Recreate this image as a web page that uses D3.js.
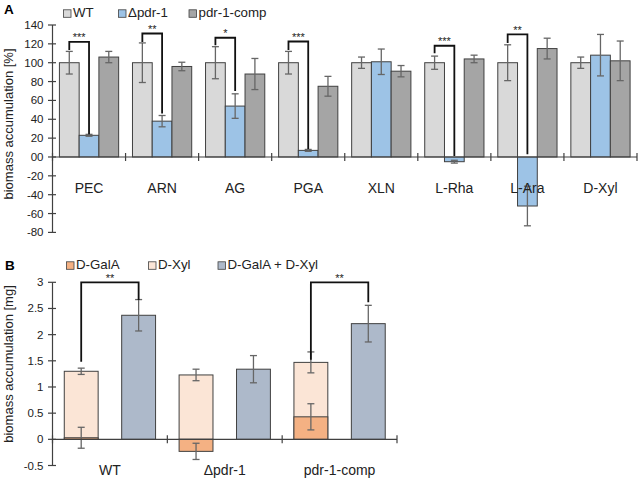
<!DOCTYPE html>
<html><head><meta charset="utf-8">
<script src="https://cdn.jsdelivr.net/npm/d3@7"></script>
<style>html,body{margin:0;padding:0;background:#fff;} svg{display:block;font-family:"Liberation Sans",Arial,sans-serif;}</style>
</head><body>
<svg id="c" width="638" height="482"></svg>
<script>
// ---------- Panel A data ----------
const catsA = ["PEC","ARN","AG","PGA","XLN","L-Rha","L-Ara","D-Xyl"];
const seriesA = ["WT","Δpdr-1","pdr-1-comp"];
const wtA      = [100,100,100,100,100,100,100,100];
const wtErrA   = [12,21,17,12,6,7,19,6];
const delA     = [23,38,54,7,101,-5,-52,108];
const delErrA  = [1,6,13,1,13.5,1.5,21,22];
const compA    = [106,96,88,75,91,104,115,102];
const compErrA = [6,4.5,16.5,10.5,6,4,11,21];
const ticksA = [140,120,100,80,60,40,20,0,-20,-40,-60,-80];
const tickLabelsA = ["140","120","100","80","60","40","20","00","-20","-40","-60","-80"];
const sigCatsA   = ["PEC","ARN","AG","PGA","L-Rha","L-Ara"];
const sigLevelA  = [122,131,126.5,122.5,118,130];
const sigLeftA   = [113.5,122,118.5,113.5,110,121];
const sigRightA  = [24,46,70,8.5,1,3];
const sigStarsA  = ["***","**","*","***","***","**"];

// ---------- Panel B data ----------
const catsB = ["WT","Δpdr-1","pdr-1-comp"];
const seriesB = ["D-GalA","D-Xyl","D-GalA + D-Xyl"];
const galB     = [0.03,-0.23,0.43];
const galErrB  = [0.2,0.155,0.25];
const xylB     = [1.30,1.23,1.47];
const xylErrB  = [0.06,0.11,0.2];
const combB    = [2.37,1.34,2.21];
const combErrB = [0.3,0.26,0.35];
const ticksB = [3,2.5,2,1.5,1,0.5,0,-0.5];
const tickLabelsB = ["3","2.5","2","1.5","1","0.5","0","-0.5"];
const sigCatsB  = ["WT","pdr-1-comp"];
const sigLevelB = [3.0,3.0];
const sigLeftB  = [1.48,1.52];
const sigRightB = [2.66,2.62];
const sigStarsB = ["**","**"];

const colA = ["#d9d9d9","#9dc3e6","#a5a5a5"];
const colB = ["#f4b183","#fbe5d6","#adb9ca"];
const barStroke = "#404040", errCol = "#666666", axisCol = "#404040";

const svg = d3.select("#c");

function yAxis(g, y, x, ticks, labels, top, bottom){
  g.append("line").attr("x1",x).attr("x2",x).attr("y1",y(top)).attr("y2",y(bottom))
   .attr("stroke",axisCol).attr("stroke-width",1.2);
  ticks.forEach((t,i)=>{
    g.append("line").attr("x1",x-4.5).attr("x2",x+3.5).attr("y1",y(t)).attr("y2",y(t))
     .attr("stroke",axisCol).attr("stroke-width",1.2);
    g.append("text").attr("x",x-9).attr("y",y(t)).attr("dy","0.35em")
     .attr("text-anchor","end").attr("font-size",11.5).attr("fill","#222").text(labels[i]);
  });
}
function errBar(g, cx, y, v, e){
  g.append("line").attr("x1",cx).attr("x2",cx).attr("y1",y(v-e)).attr("y2",y(v+e))
   .attr("stroke",errCol).attr("stroke-width",1.3);
  [v-e,v+e].forEach(w=>g.append("line").attr("x1",cx-3.5).attr("x2",cx+3.5)
    .attr("y1",y(w)).attr("y2",y(w)).attr("stroke",errCol).attr("stroke-width",1.3));
}
function bracket(g, xl, xr, y, level, left, right, stars){
  g.append("path").attr("d",`M${xl},${y(left)}V${y(level)}H${xr}V${y(right)}`)
   .attr("fill","none").attr("stroke","#111").attr("stroke-width",1.8);
  g.append("text").attr("x",(xl+xr)/2).attr("y",y(level)-0.5).attr("text-anchor","middle")
   .attr("font-size",11).attr("fill","#222").text(stars);
}
function legend(g, items, cols, xs, y){
  items.forEach((s,i)=>{
    g.append("rect").attr("x",xs[i]).attr("y",y-7.5).attr("width",7.5).attr("height",7.5)
     .attr("fill",cols[i]).attr("stroke",barStroke).attr("stroke-width",0.8);
    g.append("text").attr("x",xs[i]+9.5).attr("y",y).attr("font-size",13.3).attr("fill","#222").text(s);
  });
}

// ================= Panel A =================
const gA = svg.append("g");
const yA = d3.scaleLinear().domain([-80,140]).range([232.4,25]);
const xA = d3.scaleBand().domain(catsA).range([52.5,637]).padding(0);
const xAi = d3.scaleBand().domain(seriesA).range([0,xA.bandwidth()]).paddingInner(0).paddingOuter(0.35);
const valsA = [wtA,delA,compA], errsA = [wtErrA,delErrA,compErrA];

catsA.forEach((c,ci)=>{
  seriesA.forEach((s,si)=>{
    const v = valsA[si][ci];
    gA.append("rect").attr("x",xA(c)+xAi(s)).attr("width",xAi.bandwidth())
      .attr("y",yA(Math.max(0,v))).attr("height",Math.abs(yA(v)-yA(0)))
      .attr("fill",colA[si]).attr("stroke",barStroke).attr("stroke-width",1);
  });
});
catsA.forEach((c,ci)=>{
  seriesA.forEach((s,si)=>{
    errBar(gA, xA(c)+xAi(s)+xAi.bandwidth()/2, yA, valsA[si][ci], errsA[si][ci]);
  });
});
// category axis
gA.append("line").attr("x1",xA.range()[0]).attr("x2",xA.range()[1]).attr("y1",yA(0)).attr("y2",yA(0))
  .attr("stroke",axisCol).attr("stroke-width",1.2);
catsA.concat([null]).forEach((c,i)=>{
  const x = c ? xA(c) : xA.range()[1];
  gA.append("line").attr("x1",x).attr("x2",x).attr("y1",yA(0)-4).attr("y2",yA(0)+4)
    .attr("stroke",axisCol).attr("stroke-width",1.2);
});
catsA.forEach(c=>gA.append("text").attr("x",xA(c)+xA.bandwidth()/2).attr("y",192.5)
  .attr("text-anchor","middle").attr("font-size",14).attr("fill","#222").text(c));
yAxis(gA, yA, 52.5, ticksA, tickLabelsA, 140, -80);
sigCatsA.forEach((c,i)=>{
  const xl = xA(c)+xAi(seriesA[0])+xAi.bandwidth()/2;
  const xr = xA(c)+xAi(seriesA[1])+xAi.bandwidth()/2;
  bracket(gA, xl, xr, yA, sigLevelA[i], sigLeftA[i], sigRightA[i], sigStarsA[i]);
});
legend(gA, seriesA, colA, [63.5,118.5,189], 17.3);
gA.append("text").attr("x",4).attr("y",13.5).attr("font-size",13.5).attr("font-weight","bold").text("A");
gA.append("text").attr("transform",`translate(12.5,124) rotate(-90)`).attr("text-anchor","middle")
  .attr("font-size",13).attr("fill","#222").text("biomass accumulation [%]");

// ================= Panel B =================
const gB = svg.append("g");
const yB = d3.scaleLinear().domain([-0.5,3]).range([465.5,282.3]);
const xB = d3.scaleBand().domain(catsB).range([52.5,397]).padding(0);
const xBi = d3.scaleBand().domain(["stack","comb"]).range([0,xB.bandwidth()]).paddingInner(0.41).paddingOuter(0.205);

function barB(x, w, v, col){
  gB.append("rect").attr("x",x).attr("width",w).attr("y",yB(Math.max(0,v)))
    .attr("height",Math.abs(yB(v)-yB(0))).attr("fill",col).attr("stroke",barStroke).attr("stroke-width",1);
}
catsB.forEach((c,ci)=>{
  const xs = xB(c)+xBi("stack"), xc = xB(c)+xBi("comb"), w = xBi.bandwidth();
  barB(xs, w, xylB[ci], colB[1]);
  barB(xs, w, galB[ci], colB[0]);
  barB(xc, w, combB[ci], colB[2]);
});
catsB.forEach((c,ci)=>{
  const xs = xB(c)+xBi("stack")+xBi.bandwidth()/2, xc = xB(c)+xBi("comb")+xBi.bandwidth()/2;
  errBar(gB, xs, yB, xylB[ci], xylErrB[ci]);
  errBar(gB, xs, yB, galB[ci], galErrB[ci]);
  errBar(gB, xc, yB, combB[ci], combErrB[ci]);
});
gB.append("line").attr("x1",xB.range()[0]).attr("x2",xB.range()[1]).attr("y1",yB(0)).attr("y2",yB(0))
  .attr("stroke",axisCol).attr("stroke-width",1.2);
catsB.concat([null]).forEach(c=>{
  const x = c ? xB(c) : xB.range()[1];
  gB.append("line").attr("x1",x).attr("x2",x).attr("y1",yB(0)-4).attr("y2",yB(0)+4)
    .attr("stroke",axisCol).attr("stroke-width",1.2);
});
catsB.forEach(c=>gB.append("text").attr("x",xB(c)+xB.bandwidth()/2).attr("y",475)
  .attr("text-anchor","middle").attr("font-size",14).attr("fill","#222").text(c));
yAxis(gB, yB, 52.5, ticksB, tickLabelsB, 3, -0.5);
sigCatsB.forEach((c,i)=>{
  const xl = xB(c)+xBi("stack")+xBi.bandwidth()/2;
  const xr = xB(c)+xBi("comb")+xBi.bandwidth()/2;
  bracket(gB, xl, xr, yB, sigLevelB[i], sigLeftB[i], sigRightB[i], sigStarsB[i]);
});
legend(gB, seriesB, colB, [66.5,148.5,218], 269.3);
gB.append("text").attr("x",5).attr("y",269.5).attr("font-size",13.5).attr("font-weight","bold").text("B");
gB.append("text").attr("transform",`translate(12.5,364) rotate(-90)`).attr("text-anchor","middle")
  .attr("font-size",13).attr("fill","#222").text("biomass accumulation [mg]");
</script>
</body></html>
